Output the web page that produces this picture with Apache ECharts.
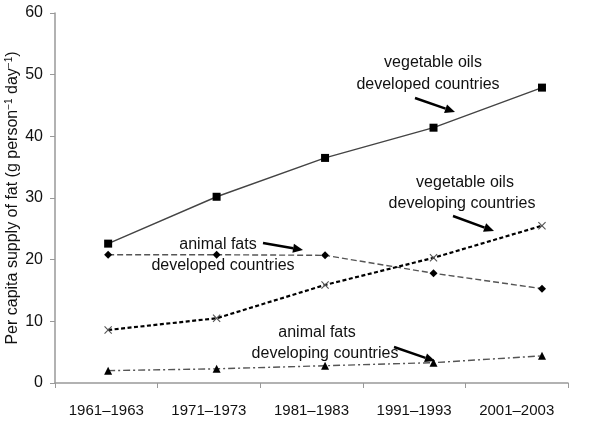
<!DOCTYPE html>
<html><head><meta charset="utf-8">
<script src="https://cdn.jsdelivr.net/npm/echarts@6/dist/echarts.min.js"></script>
<style>html,body{margin:0;padding:0;background:#fff}#c{width:600px;height:421px}</style>
</head><body><div id="c"></div>
<script>
var categories = ['1961\u20131963','1971\u20131973','1981\u20131983','1991\u20131993','2001\u20132003'];
var vegOilsDeveloped = [22.6, 30.2, 36.5, 41.4, 47.9];
var animalFatsDeveloped = [20.8, 20.8, 20.7, 17.8, 15.3];
var vegOilsDeveloping = [8.6, 10.5, 15.9, 20.3, 25.5];
var animalFatsDeveloping = [2.0, 2.3, 2.8, 3.3, 4.4];
var yTicks = [0, 10, 20, 30, 40, 50, 60];

function pairs(arr){ return arr.map(function(v,i){ return [i, v]; }); }

var FONT = '"Liberation Sans", Arial, sans-serif';
var chart = echarts.init(document.getElementById('c'));

function label(x, y, t){
  return {type:'text', x:x, y:y, style:{text:t, font:'16px ' + FONT, fill:'#111', align:'center', verticalAlign:'middle'}, z:100};
}
function arrow(x1,y1,x2,y2){
  var a = Math.atan2(y2-y1, x2-x1), L = 10, W = 4.5;
  var bx = x2 - L*Math.cos(a), by = y2 - L*Math.sin(a);
  var px = -Math.sin(a), py = Math.cos(a);
  return [
    {type:'line', shape:{x1:x1,y1:y1,x2:bx,y2:by}, style:{stroke:'#000', lineWidth:2.4}, z:100},
    {type:'polygon', shape:{points:[[x2,y2],[bx+px*W,by+py*W],[bx-px*W,by-py*W]]}, style:{fill:'#000'}, z:100}
  ];
}

var graphics = [
  label(433, 63, 'vegetable oils'), label(428, 85, 'developed countries')
].concat(arrow(415, 98, 455, 112)).concat([
  label(465, 183, 'vegetable oils'), label(462, 204, 'developing countries')
]).concat(arrow(453, 216, 494, 231)).concat([
  label(218, 245, 'animal fats'), label(223, 266, 'developed countries')
]).concat(arrow(263, 243, 303, 250)).concat([
  label(317, 333, 'animal fats'), label(325, 354, 'developing countries')
]).concat(arrow(394, 347, 435, 361));

var crossPath = 'path://M0,1L1,0L5,4L9,0L10,1L6,5L10,9L9,10L5,6L1,10L0,9L4,5Z';

chart.setOption({
  animation:false,
  backgroundColor:'#fff',
  grid:{left:55, right:32, top:13, bottom:38, containLabel:false, outerBoundsMode:'none'},
  xAxis:[{
    type:'category', data:categories, boundaryGap:true,
    axisLine:{lineStyle:{color:'#999', width:1.5}},
    axisTick:{show:true, length:5, lineStyle:{color:'#999'}},
    axisLabel:{color:'#111', fontFamily:FONT, fontSize:15, margin:20},
    splitLine:{show:false}
  },{
    type:'value', min:-0.49, max:4.24, show:false
  }],
  yAxis:{
    type:'value', min:yTicks[0], max:yTicks[yTicks.length-1], interval:10,
    axisLine:{show:true, onZero:false, lineStyle:{color:'#999', width:1.5}},
    axisTick:{show:true, length:5, lineStyle:{color:'#999'}},
    axisLabel:{color:'#111', fontFamily:FONT, fontSize:16, margin:12},
    splitLine:{show:false},
    name:'{a|Per capita supply of fat (g person}{s|\u22121}{a| day}{s|\u22121}{a|)}',
    nameLocation:'middle', nameGap:34, nameRotate:90, nameMoveOverlap:false,
    nameTextStyle:{rich:{
      a:{fontFamily:FONT, fontSize:16, color:'#111'},
      s:{fontFamily:FONT, fontSize:10, color:'#111', verticalAlign:'top', padding:[0,0,7,0]}
    }}
  },
  graphic:graphics,
  series:[
    {type:'line', xAxisIndex:1, data:pairs(vegOilsDeveloped), symbol:'rect', symbolSize:8,
     itemStyle:{color:'#000'}, lineStyle:{color:'#444', width:1.4, type:'solid'}},
    {type:'line', xAxisIndex:1, data:pairs(animalFatsDeveloped), symbol:'diamond', symbolSize:8,
     itemStyle:{color:'#000'}, lineStyle:{color:'#555', width:1.4, type:[6,3]}},
    {type:'line', xAxisIndex:1, data:pairs(vegOilsDeveloping), symbol:crossPath, symbolSize:8,
     itemStyle:{color:'#555'}, lineStyle:{color:'#000', width:2.2, type:[4,2.5]}},
    {type:'line', xAxisIndex:1, data:pairs(animalFatsDeveloping), symbol:'triangle', symbolSize:8,
     itemStyle:{color:'#000'}, lineStyle:{color:'#555', width:1.4, type:[7,3,2,3]}}
  ]
});
</script>
</body></html>
